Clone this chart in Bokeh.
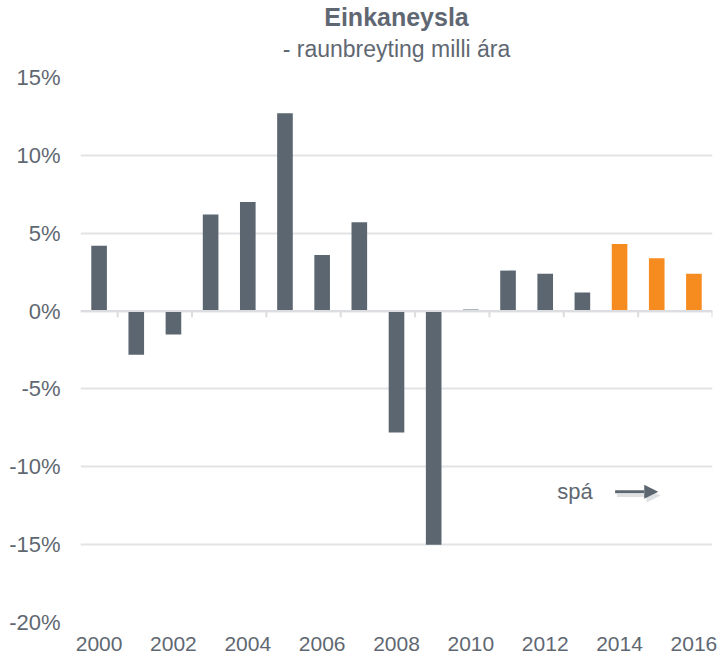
from bokeh.plotting import figure
from bokeh.models import (Range1d, Span, Title, Arrow, NormalHead, Label,
                          FixedTicker, PrintfTickFormatter, ColumnDataSource)
from bokeh.embed import file_html
from bokeh.resources import INLINE

# ---- data ----
years = list(range(2000, 2017))
growth = [4.2, -2.8, -1.5, 6.2, 7.0, 12.7, 3.6, 5.7, -7.8, -15.0,
          0.1, 2.6, 2.4, 1.2, 4.3, 3.4, 2.4]
forecast_from = 2014
y_ticks = [-20, -15, -10, -5, 0, 5, 10, 15]
x_label_years = list(range(2000, 2017, 2))
title_text = "Einkaneysla"
subtitle_text = "- raunbreyting milli ára"
forecast_label = "spá"

GRAY = "#5b6670"
ORANGE = "#f68b1f"
TEXT = "#5f6872"
GRID = "#e2e3e5"
FONT = "Liberation Sans"

colors = [ORANGE if y >= forecast_from else GRAY for y in years]
src = ColumnDataSource(dict(x=years, top=growth, color=colors))

p = figure(width=720, height=658, output_backend="svg", toolbar_location=None,
           x_range=Range1d(years[0] - 0.5, years[-1] + 0.5),
           y_range=Range1d(y_ticks[0], y_ticks[-1]),
           min_border_left=80, min_border_right=8, min_border_top=0,
           min_border_bottom=36)
p.outline_line_color = None
p.background_fill_color = "white"
p.border_fill_color = "white"

# titles (first added = closest to plot); first one is an empty spacer
p.add_layout(Title(text=" ", text_font=FONT, text_font_size="10px",
                   standoff=0, offset=0), "above")
p.add_layout(Title(text=subtitle_text, align="center", text_font=FONT,
                   text_font_size="23px", text_font_style="normal",
                   text_color=TEXT, standoff=6, offset=0), "above")
p.add_layout(Title(text=title_text, align="center", text_font=FONT,
                   text_font_size="25px", text_font_style="bold",
                   text_color=TEXT, standoff=0, offset=0), "above")

# grid
p.xgrid.grid_line_color = None
p.ygrid.ticker = FixedTicker(ticks=y_ticks)
p.ygrid.grid_line_color = GRID
p.ygrid.grid_line_width = 2

# y axis
p.yaxis.ticker = FixedTicker(ticks=y_ticks)
p.yaxis.formatter = PrintfTickFormatter(format="%d%%")
p.yaxis.axis_line_color = None
p.yaxis.major_tick_line_color = None
p.yaxis.minor_tick_line_color = None
p.yaxis.major_label_text_font = FONT
p.yaxis.major_label_text_font_size = "22px"
p.yaxis.major_label_text_color = TEXT
p.yaxis.major_label_standoff = 14

# x axis (labels only at bottom)
p.xaxis.ticker = FixedTicker(ticks=x_label_years)
p.xaxis.axis_line_color = None
p.xaxis.major_tick_line_color = None
p.xaxis.minor_tick_line_color = None
p.xaxis.major_label_text_font = FONT
p.xaxis.major_label_text_font_size = "21px"
p.xaxis.major_label_text_color = TEXT
p.xaxis.major_label_standoff = 8

# zero line with category-boundary ticks
p.add_layout(Span(location=0, dimension="width", line_color="#dcdde0",
                  line_width=2))
tick_x = [y + 0.5 for y in x_label_years]
p.segment(x0=tick_x, x1=tick_x, y0=[0] * len(tick_x), y1=[-0.4] * len(tick_x),
          line_color="#dcdde0", line_width=2)

# bars
p.vbar(x="x", top="top", bottom=0, width=0.42, color="color", source=src,
       line_color=None)

# forecast annotation
arrow_y = -11.6
p.add_layout(Arrow(x_start=2013.93, y_start=arrow_y - 0.25, x_end=2015.1,
                   y_end=arrow_y - 0.25, line_color="#c9cbce", line_width=3,
                   line_alpha=0.6,
                   end=NormalHead(size=14, fill_color="#c9cbce",
                                  fill_alpha=0.6, line_color=None)))
p.add_layout(Arrow(x_start=2013.88, y_start=arrow_y, x_end=2015.04,
                   y_end=arrow_y, line_color=GRAY, line_width=3,
                   end=NormalHead(size=14, fill_color=GRAY, line_color=None)))
p.add_layout(Label(x=2012.8, y=arrow_y, text=forecast_label,
                   text_align="center", text_baseline="middle",
                   text_font=FONT, text_font_size="22px", text_color=TEXT))

open("out.html", "w").write(file_html(p, INLINE))
